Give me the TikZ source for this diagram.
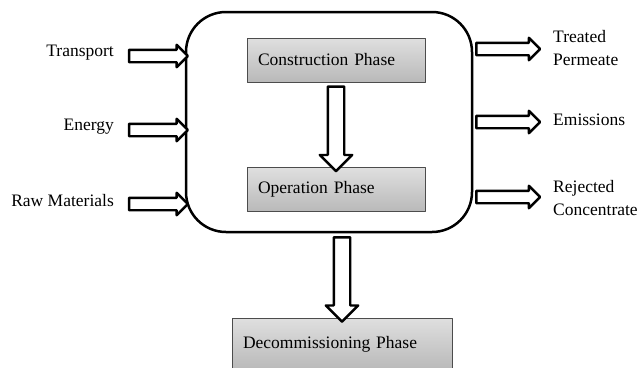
\documentclass[tikz,border=0pt]{standalone}
\usepackage{fontspec}
\setmainfont{Liberation Serif}
\usetikzlibrary{shapes.arrows,calc}

\tikzset{
	phase/.style={draw=gray!60!black, line width=.9pt, top color=gray!25, bottom color=gray!55,
		inner xsep=11pt, align=left, minimum height=44pt},
	label/.style={inner sep=0pt, align=left},
	fatarrow/.style={single arrow, draw, line width=2.4pt, fill=white, inner xsep=0pt,
		inner ysep=5pt, single arrow head extend=5pt, minimum width=1pt},
	bigarrow/.style={fatarrow, inner ysep=7pt, single arrow head extend=8pt}
}
% hollow block arrow from #2 to #3
\newcommand{\blockarrow}[3][fatarrow]{%
	\path let \p1=(#2), \p2=(#3), \n1={veclen(\x2-\x1,\y2-\y1)}, \n2={atan2(\y2-\y1,\x2-\x1)} in
	($(#2)!.5!(#3)$) node[#1, minimum height=\n1, rotate=\n2] {};}

\begin{document}
\begin{tikzpicture}[x=1pt, y=-1pt, font=\fontsize{17.5}{23}\selectfont, line join=round]
	\useasboundingbox (0,0) rectangle (639,367);
	% main box
	\node[draw, line width=2.5pt, rounded corners=40pt, minimum width=286pt, minimum height=220pt] (plant) at (329,122) {};
	\node[phase, text width=156pt] (construction) at (336,60) {Construction Phase};
	\node[phase, text width=156pt] (operation) at (336,189.5) {Operation Phase};
	\node[phase, text width=198pt, minimum height=52pt] (decommissioning) at (342,344) {Decommissioning Phase};
	
	% inputs
	\node[label, anchor=east] (transport) at (114,53) {Transport};
	\node[label, anchor=east] (energy) at (114,127) {Energy};
	\node[label, anchor=east] (raw) at (114,201) {Raw Materials};
	% outputs
	\node[label, anchor=west] (treated) at (553,48) {Treated\\Permeate};
	\node[label, anchor=west] (emissions) at (553,120) {Emissions};
	\node[label, anchor=west] (rejected) at (553,198) {Rejected\\Concentrate};
	
	\coordinate (t1) at (126,56);  \coordinate (t2) at (plant.west |- t1);
	\coordinate (e1) at (126,130); \coordinate (e2) at (plant.west |- e1);
	\coordinate (r1) at (126,204); \coordinate (r2) at (plant.west |- r1);
	\coordinate (p2) at (537,49);  \coordinate (p1) at (plant.east |- p2);
	\coordinate (m2) at (537,122); \coordinate (m1) at (plant.east |- m2);
	\coordinate (c2) at (537,197); \coordinate (c1) at (plant.east |- c2);
	
	\blockarrow{t1}{t2}
	\blockarrow{e1}{e2}
	\blockarrow{r1}{r2}
	\blockarrow{p1}{p2}
	\blockarrow{m1}{m2}
	\blockarrow{c1}{c2}
	\blockarrow[bigarrow]{construction.south}{operation.north}
	\blockarrow[bigarrow]{decommissioning.north |- plant.south}{decommissioning.north}
\end{tikzpicture}
\end{document}
